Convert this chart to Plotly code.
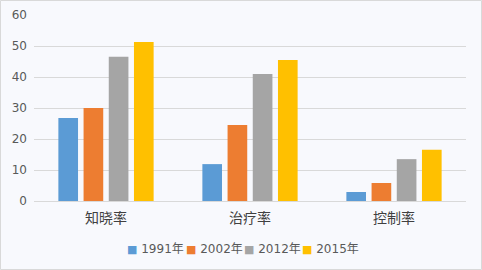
import plotly.graph_objects as go

categories = ["知晓率", "治疗率", "控制率"]
series_names = ["1991年", "2002年", "2012年", "2015年"]
values = [
    [26.8, 11.9, 2.9],
    [30.0, 24.5, 5.8],
    [46.5, 41.0, 13.5],
    [51.3, 45.5, 16.5],
]
colors = ["#5B9BD5", "#ED7D31", "#A5A5A5", "#FFC000"]
y_ticks = [0, 10, 20, 30, 40, 50, 60]

fig = go.Figure()
for name, vals, c in zip(series_names, values, colors):
    fig.add_trace(go.Bar(name=name, x=categories, y=vals, marker_color=c,
                         marker_line_width=0, showlegend=False))

W, H = 482, 270
ml, mr, mt, mb = 34, 16, 15, 69
pw, ph = W - ml - mr, H - mt - mb
FONT = "DejaVu Sans, Noto Sans CJK SC"

fig.update_layout(
    width=W, height=H,
    margin=dict(l=ml, r=mr, t=mt, b=mb, autoexpand=False),
    paper_bgcolor="#F8F9FD", plot_bgcolor="#F8F9FD",
    barmode="group", bargap=0.30, bargroupgap=0.22,
    font=dict(family=FONT, color="#595959"),
    xaxis=dict(showgrid=False, showline=True, linecolor="#D9D9D9", linewidth=1,
               tickfont=dict(size=14, color="#404040", family="Noto Sans CJK SC"),
               ticks="", ticklabelstandoff=4),
    yaxis=dict(range=[0, 60], tickvals=y_ticks, showgrid=True, gridcolor="#D9D9D9",
               gridwidth=1, zeroline=False, tickfont=dict(size=12, color="#595959"),
               ticklabelstandoff=6),
    showlegend=False,
)

# custom compact legend
leg_x = [125, 184, 242, 300]
for name, c, px in zip(series_names, colors, leg_x):
    fig.add_annotation(
        xref="paper", yref="paper", x=(px - ml) / pw, y=(H - mb - 249) / ph,
        xanchor="left", yanchor="middle", showarrow=False,
        text=f"<span style='color:{c};font-size:11px'>■</span> {name}",
        font=dict(size=12, color="#595959", family=FONT),
    )

fig.add_shape(type="rect", xref="paper", yref="paper",
              x0=(-ml + 0.5) / pw, x1=1 + (mr - 0.5) / pw,
              y0=(-mb + 0.5) / ph, y1=1 + (mt - 0.5) / ph,
              line=dict(color="#D9D9D9", width=1), fillcolor="rgba(0,0,0,0)", layer="below")

fig.write_html("out.html")
